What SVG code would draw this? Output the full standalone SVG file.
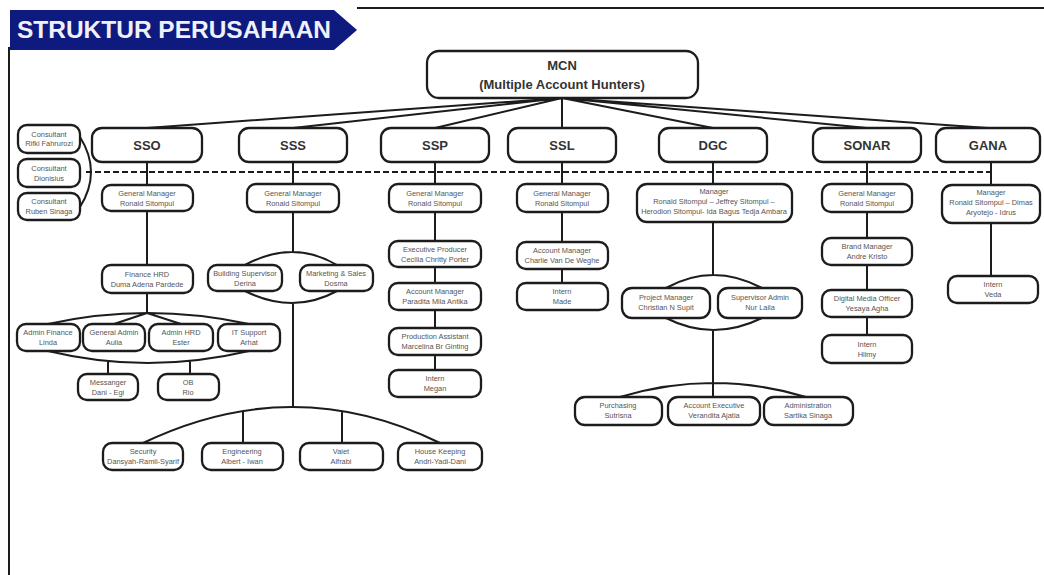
<svg xmlns="http://www.w3.org/2000/svg" width="1044" height="575" viewBox="0 0 1044 575">
<style>
.bx{fill:#fff;stroke:#1c1c1c;stroke-width:2.3}
.ln{fill:none;stroke:#1c1c1c;stroke-width:2}
.t{font-family:"Liberation Sans",Arial,sans-serif;font-size:7.4px;fill:#555;text-anchor:middle}
.h{font-family:"Liberation Sans",Arial,sans-serif;font-size:13px;font-weight:bold;fill:#333;text-anchor:middle}
</style>
<rect width="1044" height="575" fill="#fff"/>
<g id="frame">
<path class="ln" d="M357,8 H1044 M9,47 V575" stroke-width="1.5"/>
</g>
<g id="title">
<path d="M10,10 H334 L357,30 L334,50 H10 Z" fill="#0f1a7e"/>
<text x="17" y="38" font-family="Liberation Sans,Arial,sans-serif" font-size="24" font-weight="bold" fill="#eef0fa" textLength="314" lengthAdjust="spacingAndGlyphs">STRUKTUR PERUSAHAAN</text>
</g>
<g id="connectors">
<path class="ln" d="M562,98 L147,128 M562,98 L293,128 M562,98 L435,128 M562,98 L562,128 M562,98 L713,128 M562,98 L867,128 M562,98 L988,128"/>
<path class="ln" d="M86,172 H995" stroke-dasharray="6 3"/>
<path class="ln" d="M80,137 Q102,172 80,207"/>
<path class="ln" d="M147,162 V185 M147,211 V265 M147,293 V313"/>
<path class="ln" d="M48,324 Q147,302 249,324 M147,313 L114,324 M147,313 L181,324"/>
<path class="ln" d="M48,351 Q147,375 249,351 M108,361 V374 M190,361 V374"/>
<path class="ln" d="M293,162 V184 M293,212 V252 M245,265 Q293,239 337,265 M245,291 Q293,315 337,291 M293,303 V407"/>
<path class="ln" d="M143,443 Q293,371 440,443 M243,411 V443 M342,411 V443"/>
<path class="ln" d="M435,162 V184 M435,212 V241 M435,267 V283 M435,310 V328 M435,355 V370"/>
<path class="ln" d="M562,162 V184 M562,212 V242 M562,269 V283"/>
<path class="ln" d="M713,162 V184 M713,222 V275 M666,288 Q713,262 762,288 M666,318 Q713,342 762,318 M713,330 V397 M620,397 Q713,369 806,397"/>
<path class="ln" d="M867,162 V184 M867,212 V238 M867,265 V290 M867,317 V335"/>
<path class="ln" d="M991,162 V185 M991,223 V276"/>
</g>
<g id="mcn"><rect class="bx" x="427" y="51" width="271" height="47" rx="12"/><text class="h" x="562" y="70">MCN</text><text class="h" x="562" y="89">(Multiple Account Hunters)</text></g>
<g id="c1"><rect class="bx" x="18" y="125" width="62" height="28" rx="9"/><text class="t" x="49" y="137">Consultant</text><text class="t" x="49" y="146">Rifki Fahrurozi</text></g>
<g id="c2"><rect class="bx" x="18" y="159" width="62" height="28" rx="9"/><text class="t" x="49" y="171">Consultant</text><text class="t" x="49" y="181">Dionisius</text></g>
<g id="c3"><rect class="bx" x="18" y="193" width="62" height="27" rx="9"/><text class="t" x="49" y="204">Consultant</text><text class="t" x="49" y="214">Ruben Sinaga</text></g>
<g id="sso"><rect class="bx" x="92" y="128" width="110" height="34" rx="10"/><text class="h" x="147" y="150">SSO</text></g>
<g id="sss"><rect class="bx" x="239" y="128" width="108" height="34" rx="10"/><text class="h" x="293" y="150">SSS</text></g>
<g id="ssp"><rect class="bx" x="381" y="128" width="108" height="34" rx="10"/><text class="h" x="435" y="150">SSP</text></g>
<g id="ssl"><rect class="bx" x="508" y="128" width="108" height="34" rx="10"/><text class="h" x="562" y="150">SSL</text></g>
<g id="dgc"><rect class="bx" x="659" y="128" width="108" height="34" rx="10"/><text class="h" x="713" y="150">DGC</text></g>
<g id="sonar"><rect class="bx" x="813" y="128" width="108" height="34" rx="10"/><text class="h" x="867" y="150">SONAR</text></g>
<g id="gana"><rect class="bx" x="936" y="128" width="104" height="34" rx="10"/><text class="h" x="988" y="150">GANA</text></g>
<g id="sso-gm"><rect class="bx" x="102" y="185" width="91" height="26" rx="9"/><text class="t" x="147" y="196">General Manager</text><text class="t" x="147" y="206">Ronald Sitompul</text></g>
<g id="sso-fin"><rect class="bx" x="102" y="265" width="91" height="28" rx="9"/><text class="t" x="147" y="277">Finance HRD</text><text class="t" x="147" y="287">Duma Adena Pardede</text></g>
<g id="sso-af"><rect class="bx" x="17" y="324" width="63" height="27" rx="9"/><text class="t" x="48" y="335">Admin Finance</text><text class="t" x="48" y="345">Linda</text></g>
<g id="sso-ga"><rect class="bx" x="83" y="324" width="62" height="27" rx="9"/><text class="t" x="114" y="335">General Admin</text><text class="t" x="114" y="345">Aulia</text></g>
<g id="sso-ah"><rect class="bx" x="149" y="324" width="64" height="27" rx="9"/><text class="t" x="181" y="335">Admin HRD</text><text class="t" x="181" y="345">Ester</text></g>
<g id="sso-it"><rect class="bx" x="218" y="324" width="62" height="27" rx="9"/><text class="t" x="249" y="335">IT Support</text><text class="t" x="249" y="345">Arhat</text></g>
<g id="sso-ms"><rect class="bx" x="78" y="374" width="60" height="26" rx="9"/><text class="t" x="108" y="385">Messanger</text><text class="t" x="108" y="395">Dani - Egi</text></g>
<g id="sso-ob"><rect class="bx" x="158" y="374" width="61" height="26" rx="9"/><text class="t" x="188" y="385">OB</text><text class="t" x="188" y="395">Rio</text></g>
<g id="sss-gm"><rect class="bx" x="247" y="184" width="92" height="28" rx="9"/><text class="t" x="293" y="196">General Manager</text><text class="t" x="293" y="206">Ronald Sitompul</text></g>
<g id="sss-bs"><rect class="bx" x="208" y="265" width="74" height="26" rx="9"/><text class="t" x="245" y="276">Building Supervisor</text><text class="t" x="245" y="286">Derina</text></g>
<g id="sss-ms"><rect class="bx" x="300" y="265" width="73" height="26" rx="9"/><text class="t" x="336" y="276">Marketing &amp; Sales</text><text class="t" x="336" y="286">Dosma</text></g>
<g id="sss-sec"><rect class="bx" x="103" y="443" width="80" height="27" rx="9"/><text class="t" x="143" y="454">Security</text><text class="t" x="143" y="464">Dansyah-Ramli-Syarif</text></g>
<g id="sss-eng"><rect class="bx" x="202" y="443" width="81" height="27" rx="9"/><text class="t" x="242" y="454">Engineering</text><text class="t" x="242" y="464">Albert - Iwan</text></g>
<g id="sss-val"><rect class="bx" x="300" y="443" width="83" height="27" rx="9"/><text class="t" x="341" y="454">Valet</text><text class="t" x="341" y="464">Alfrabi</text></g>
<g id="sss-hk"><rect class="bx" x="398" y="443" width="84" height="27" rx="9"/><text class="t" x="440" y="454">House Keeping</text><text class="t" x="440" y="464">Andri-Yadi-Dani</text></g>
<g id="ssp-gm"><rect class="bx" x="389" y="184" width="92" height="28" rx="9"/><text class="t" x="435" y="196">General Manager</text><text class="t" x="435" y="206">Ronald Sitompul</text></g>
<g id="ssp-ep"><rect class="bx" x="389" y="241" width="92" height="26" rx="9"/><text class="t" x="435" y="252">Executive Producer</text><text class="t" x="435" y="262">Cecilia Chritty Porter</text></g>
<g id="ssp-am"><rect class="bx" x="389" y="283" width="92" height="27" rx="9"/><text class="t" x="435" y="294">Account Manager</text><text class="t" x="435" y="304">Paradita Mila Antika</text></g>
<g id="ssp-pa"><rect class="bx" x="389" y="328" width="92" height="27" rx="9"/><text class="t" x="435" y="339">Production Assistant</text><text class="t" x="435" y="349">Marcelina Br Ginting</text></g>
<g id="ssp-in"><rect class="bx" x="389" y="370" width="92" height="27" rx="9"/><text class="t" x="435" y="381">Intern</text><text class="t" x="435" y="391">Megan</text></g>
<g id="ssl-gm"><rect class="bx" x="517" y="184" width="91" height="28" rx="9"/><text class="t" x="562" y="196">General Manager</text><text class="t" x="562" y="206">Ronald Sitompul</text></g>
<g id="ssl-am"><rect class="bx" x="517" y="242" width="91" height="27" rx="9"/><text class="t" x="562" y="253">Account Manager</text><text class="t" x="562" y="263">Charlie Van De Weghe</text></g>
<g id="ssl-in"><rect class="bx" x="517" y="283" width="91" height="27" rx="9"/><text class="t" x="562" y="294">Intern</text><text class="t" x="562" y="304">Made</text></g>
<g id="dgc-m"><rect class="bx" x="637" y="184" width="155" height="38" rx="10"/><text class="t" x="714" y="194">Manager</text><text class="t" x="714" y="204">Ronald Sitompul – Jeffrey Sitompul –</text><text class="t" x="714" y="214">Herodion Sitompul- Ida Bagus Tedja Ambara</text></g>
<g id="dgc-pm"><rect class="bx" x="622" y="288" width="88" height="30" rx="10"/><text class="t" x="666" y="300">Project Manager</text><text class="t" x="666" y="310">Christian N Supit</text></g>
<g id="dgc-sa"><rect class="bx" x="718" y="288" width="84" height="30" rx="10"/><text class="t" x="760" y="300">Supervisor Admin</text><text class="t" x="760" y="310">Nur Laila</text></g>
<g id="dgc-pu"><rect class="bx" x="575" y="397" width="87" height="28" rx="10"/><text class="t" x="618" y="408">Purchasing</text><text class="t" x="618" y="418">Sutrisna</text></g>
<g id="dgc-ae"><rect class="bx" x="668" y="397" width="92" height="28" rx="10"/><text class="t" x="714" y="408">Account Executive</text><text class="t" x="714" y="418">Verandita Ajatia</text></g>
<g id="dgc-ad"><rect class="bx" x="764" y="397" width="89" height="28" rx="10"/><text class="t" x="808" y="408">Administration</text><text class="t" x="808" y="418">Sartika Sinaga</text></g>
<g id="sonar-gm"><rect class="bx" x="822" y="184" width="90" height="28" rx="9"/><text class="t" x="867" y="196">General Manager</text><text class="t" x="867" y="206">Ronald Sitompul</text></g>
<g id="sonar-bm"><rect class="bx" x="822" y="238" width="90" height="27" rx="9"/><text class="t" x="867" y="249">Brand Manager</text><text class="t" x="867" y="259">Andre Kristo</text></g>
<g id="sonar-dm"><rect class="bx" x="822" y="290" width="90" height="27" rx="9"/><text class="t" x="867" y="301">Digital Media Officer</text><text class="t" x="867" y="311">Yesaya Agha</text></g>
<g id="sonar-in"><rect class="bx" x="822" y="335" width="90" height="28" rx="9"/><text class="t" x="867" y="347">Intern</text><text class="t" x="867" y="357">Hilmy</text></g>
<g id="gana-m"><rect class="bx" x="942" y="185" width="98" height="38" rx="10"/><text class="t" x="991" y="195">Manager</text><text class="t" x="991" y="205">Ronald Sitompul – Dimas</text><text class="t" x="991" y="215">Aryotejo - Idrus</text></g>
<g id="gana-in"><rect class="bx" x="948" y="276" width="90" height="27" rx="9"/><text class="t" x="993" y="287">Intern</text><text class="t" x="993" y="297">Veda</text></g>
</svg>
